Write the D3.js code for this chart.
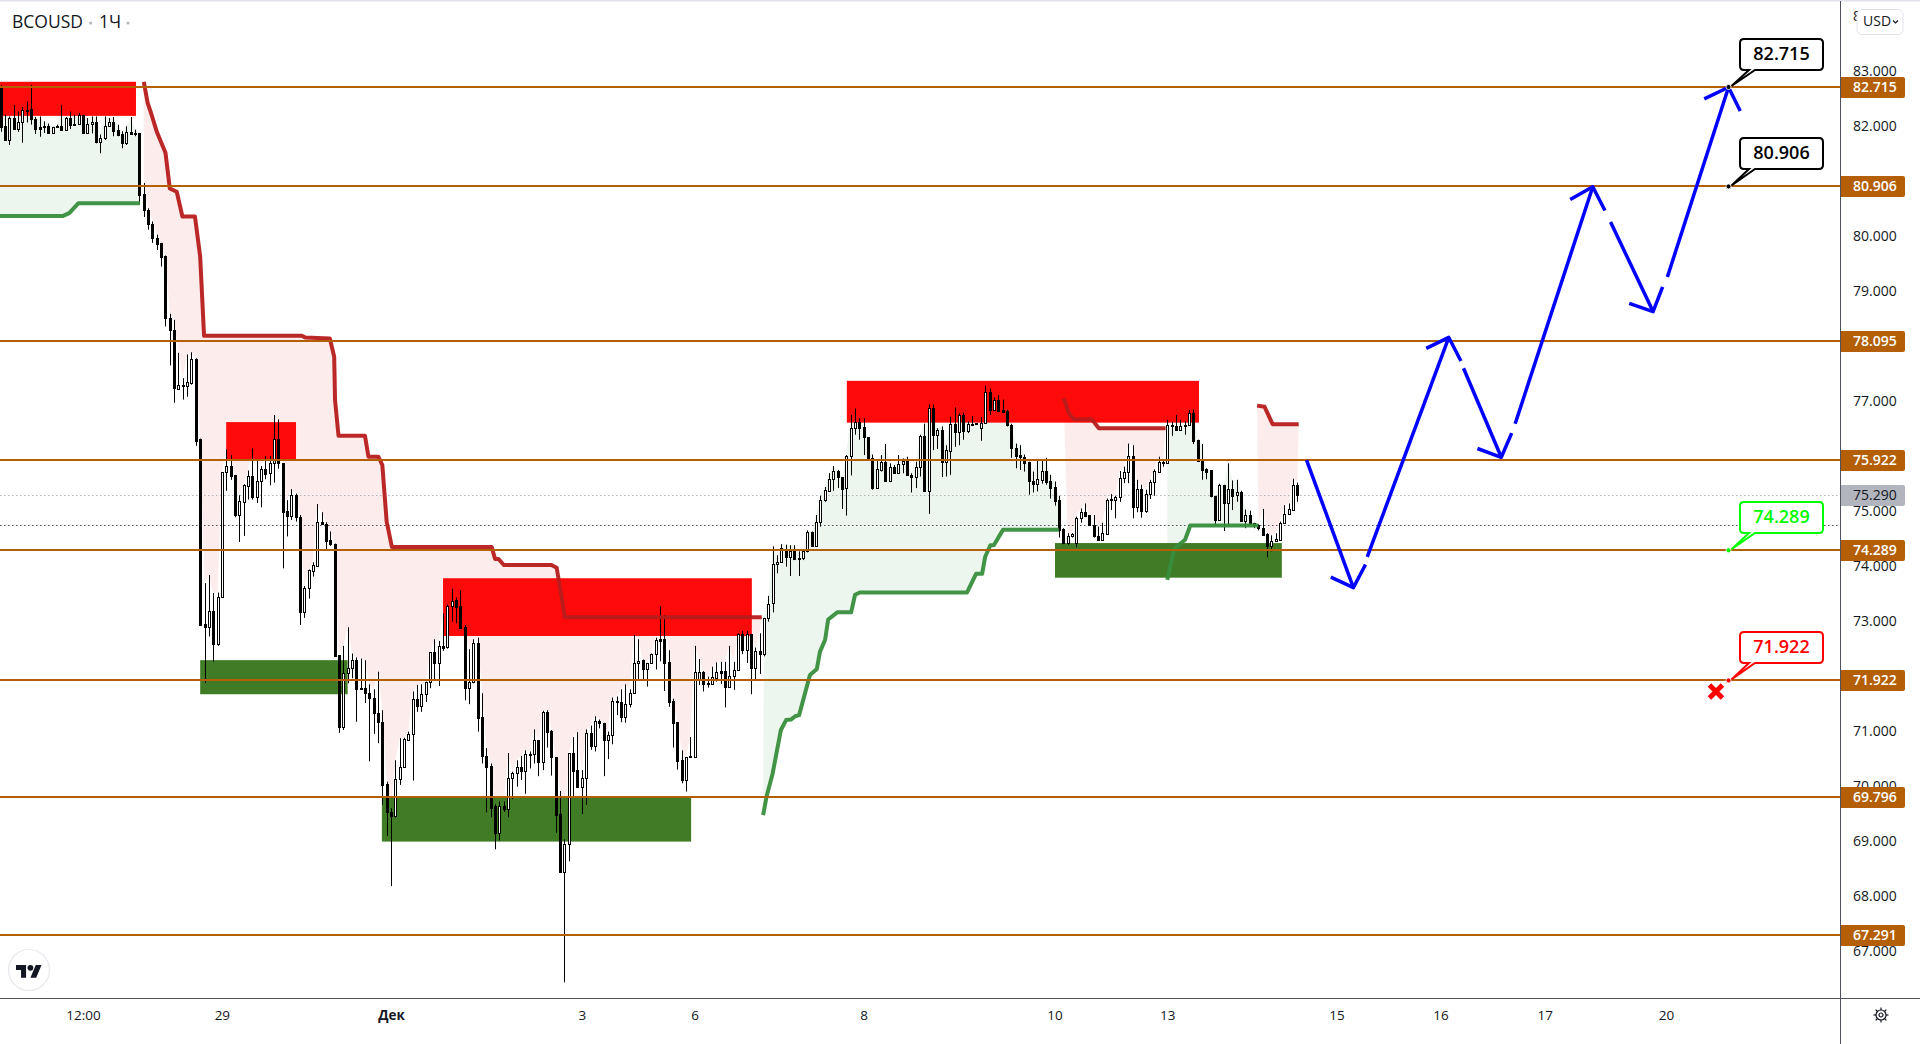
<!DOCTYPE html>
<html lang="ru">
<head>
<meta charset="utf-8">
<title>BCOUSD 1Ч</title>
<script src="https://cdn.jsdelivr.net/npm/d3@7"></script>
<style>
html,body{margin:0;padding:0;background:#fff;overflow:hidden}
svg{display:block}
text{font-family:"Open Sans",sans-serif;fill:#131722}
</style>
</head>
<body>
<svg id="chart" width="1920" height="1044"></svg>
<script>
// ---- Candles (BCOUSD, 1 hour bars) ----
const opens = [
82.69,82.01,81.76,82.15,81.96,82.07,82.30,82.31,82.13,81.98,
82.00,82.00,81.88,81.98,82.01,81.94,82.16,82.05,82.04,82.20,
81.88,82.04,82.07,81.72,81.78,82.00,82.07,81.94,81.86,81.69,
81.89,81.88,81.88,80.77,80.48,80.23,79.97,79.88,79.65,78.51,
78.30,77.23,77.30,77.27,77.33,77.77,76.31,72.95,72.90,73.18,
72.58,73.44,75.71,75.82,75.66,74.93,75.17,75.46,75.64,75.25,
75.54,75.76,75.69,75.87,76.32,75.87,75.00,74.92,75.30,74.90,
73.17,73.60,73.92,74.01,74.80,74.76,74.47,74.41,72.38,71.08,
72.05,72.14,72.29,71.78,71.78,71.70,71.60,71.32,71.17,70.04,
69.52,69.46,70.12,70.34,70.84,70.94,71.58,71.46,71.67,71.89,
72.43,72.23,72.55,72.53,73.28,73.39,73.27,72.89,71.78,71.89,
72.60,71.25,70.55,70.36,69.63,69.14,69.63,69.58,70.14,70.23,
70.35,70.28,70.58,70.58,70.83,70.44,71.35,71.00,70.53,69.49,
68.43,68.94,70.60,70.29,69.99,70.15,70.96,70.72,71.19,71.15,
70.83,70.92,71.54,71.52,71.26,71.49,71.70,72.23,72.29,72.13,
72.23,72.40,72.67,72.67,72.25,71.54,71.16,70.47,70.11,70.54,
70.53,71.93,72.07,71.87,71.86,71.96,72.09,72.09,71.81,72.01,
72.12,72.76,72.47,72.76,72.15,72.45,72.41,73.06,73.33,74.03,
74.08,74.28,74.17,74.28,74.15,74.14,74.28,74.62,74.37,74.81,
75.20,75.37,75.59,75.73,75.62,75.42,76.01,76.51,76.63,76.53,
76.34,75.96,75.43,75.75,75.90,75.54,75.81,75.70,75.85,75.91,
75.66,75.62,75.80,76.37,75.36,76.87,76.39,76.48,75.90,76.10,
76.59,76.44,76.75,76.46,76.59,76.60,76.51,76.60,77.16,76.84,
77.02,76.84,76.82,76.57,76.14,76.02,75.99,75.90,75.55,75.50,
75.57,75.73,75.55,75.44,75.20,74.67,74.42,74.54,74.42,74.87,
74.98,74.93,74.74,74.55,74.47,74.59,75.22,75.21,75.25,75.60,
75.71,76.01,75.08,75.40,75.01,75.31,75.53,75.72,75.89,75.87,
76.57,76.55,76.48,76.54,76.56,76.78,76.30,75.91,75.77,75.74,
75.28,74.84,75.47,75.14,75.40,75.29,75.34,74.82,74.93,74.78,
74.74,74.70,74.58,74.37,74.45,74.48,74.79,74.94,75.03,75.48];
const highs = [
82.75,82.21,82.18,82.39,82.27,82.35,82.45,82.75,82.17,82.18,
82.09,82.05,81.99,82.03,82.39,82.17,82.27,82.21,82.24,82.21,
82.15,82.18,82.18,81.85,82.18,82.15,82.17,82.03,81.91,82.00,
82.17,81.94,81.88,80.97,80.51,80.27,80.03,79.88,79.65,78.59,
78.48,77.88,77.42,77.85,77.89,77.78,76.32,73.69,73.84,73.51,
73.52,75.71,76.12,76.02,75.66,75.29,75.49,75.74,76.14,75.93,
75.82,76.00,76.00,76.75,76.67,75.87,75.20,75.40,75.32,74.93,
73.64,73.94,74.07,75.13,74.98,74.80,74.63,74.41,72.38,72.55,
72.89,72.41,72.34,72.32,72.29,71.85,71.76,72.08,71.38,70.08,
69.60,70.47,70.87,70.88,70.99,71.72,71.84,71.85,71.90,72.44,
72.67,72.64,73.14,73.30,73.59,73.43,73.56,72.93,72.49,72.67,
72.70,71.69,70.69,70.41,69.67,69.72,69.72,70.60,70.26,70.47,
70.55,70.65,70.63,71.03,70.83,71.37,71.38,71.02,70.53,69.91,
69.03,70.60,70.89,70.98,70.29,71.03,71.10,71.27,71.21,71.15,
70.99,71.61,71.63,71.76,71.85,71.76,72.75,72.67,72.30,72.24,
72.41,72.70,73.27,73.11,72.47,71.59,71.16,70.65,70.53,70.89,
72.55,72.31,72.09,71.99,72.17,72.25,72.26,72.26,72.55,72.26,
72.78,72.82,72.82,72.76,72.52,72.78,73.06,73.46,74.36,74.20,
74.40,74.39,74.38,74.38,74.27,74.29,74.65,74.63,74.93,75.28,
75.44,75.69,75.82,75.75,75.62,76.02,76.75,76.87,76.69,76.69,
76.34,76.03,75.93,76.02,76.22,75.87,75.84,76.02,75.96,75.99,
75.69,75.90,76.39,76.59,76.94,76.94,76.51,76.54,76.20,76.72,
76.89,76.78,76.79,76.63,76.73,76.60,76.71,77.28,77.23,77.07,
77.11,77.03,76.84,76.59,76.23,76.20,76.03,75.90,75.72,75.93,
75.93,75.97,75.66,75.54,75.28,74.69,74.60,74.60,74.90,75.05,
75.14,74.93,74.93,74.72,74.79,75.23,75.31,75.28,75.73,75.81,
76.23,76.20,75.57,75.48,75.39,75.57,75.76,75.99,75.93,76.66,
76.63,76.75,76.66,76.64,76.84,76.85,76.30,76.22,75.78,75.74,
75.28,75.50,75.48,75.87,75.56,75.57,75.37,75.03,75.01,74.79,
74.76,75.04,74.60,74.56,74.60,74.81,75.11,75.14,75.59,75.52];
const lows = [
81.90,81.75,81.66,81.96,81.90,81.70,82.07,82.03,81.86,81.81,
81.88,81.88,81.88,81.98,81.94,81.94,81.95,82.03,82.03,81.86,
81.87,81.87,81.69,81.51,81.75,81.99,81.82,81.82,81.60,81.66,
81.85,81.82,80.59,80.35,80.12,79.88,79.75,79.45,78.36,77.65,
76.97,77.21,77.03,77.08,77.30,76.19,72.93,71.87,72.72,72.26,
72.55,73.44,75.37,75.57,74.89,74.44,74.55,75.21,75.21,75.15,
75.07,75.58,75.47,75.52,75.77,73.96,74.54,74.84,74.81,72.93,
73.06,73.41,73.81,74.01,74.75,74.31,74.37,72.35,70.97,71.02,
71.87,71.96,71.17,71.76,71.51,70.45,70.95,70.78,69.66,69.09,
68.18,69.43,70.02,70.34,70.83,70.10,71.35,71.35,71.53,71.78,
71.93,71.82,72.46,72.50,72.99,72.96,72.87,71.56,71.49,71.87,
70.99,70.41,69.52,69.43,68.85,69.01,69.53,69.43,69.76,69.99,
70.11,69.86,70.32,70.41,70.18,70.29,70.70,70.19,69.15,68.43,
66.43,68.63,69.81,69.99,69.49,69.66,70.66,70.63,71.05,70.18,
70.49,70.76,71.29,71.16,71.15,71.43,71.69,71.93,71.94,71.81,
72.22,72.12,72.27,71.73,71.44,70.70,70.30,70.05,69.90,70.52,
70.53,71.84,71.72,71.79,71.86,71.90,71.86,71.43,71.79,71.75,
72.11,72.40,72.24,71.67,71.94,72.04,72.36,72.99,73.16,73.87,
74.08,73.99,73.82,74.11,73.82,74.11,74.25,74.37,74.37,74.72,
75.17,75.36,75.37,75.42,75.04,74.92,75.65,76.39,76.30,76.02,
75.96,75.39,75.42,75.72,75.54,75.53,75.68,75.69,75.69,75.65,
75.34,75.42,75.63,75.36,74.95,76.11,76.13,75.62,75.63,75.66,
76.17,76.20,76.30,76.42,76.57,76.59,76.28,76.60,76.75,76.84,
76.83,76.81,76.54,75.97,75.78,75.75,75.72,75.30,75.34,75.36,
75.50,75.48,75.23,75.10,74.52,74.40,74.39,74.52,74.34,74.79,
74.89,74.74,74.52,74.47,74.47,74.57,75.02,74.87,75.17,75.51,
75.51,74.87,74.98,74.88,74.97,75.22,75.28,75.71,75.81,75.87,
76.37,76.47,76.47,76.39,76.56,76.22,75.90,75.57,75.58,75.25,
74.74,74.83,74.64,74.75,75.02,75.17,74.81,74.69,74.75,74.69,
74.65,74.56,74.16,74.27,74.45,74.46,74.78,74.93,75.02,75.17];
const closes = [
81.99,81.75,82.15,81.96,82.07,82.29,82.28,82.13,81.96,81.96,
81.98,81.88,81.98,82.01,81.94,82.16,82.03,82.03,82.20,81.88,
82.04,82.07,81.72,81.79,82.00,82.07,81.92,81.85,81.69,81.89,
81.86,81.86,80.75,80.47,80.23,79.97,79.86,79.63,78.51,78.29,
77.24,77.29,77.28,77.35,77.77,76.28,72.93,72.90,73.18,72.58,
73.44,75.71,75.82,75.64,74.93,75.18,75.47,75.64,75.25,75.55,
75.76,75.67,75.87,76.32,75.87,74.99,74.92,75.30,74.89,73.17,
73.60,73.93,74.02,74.80,74.76,74.46,74.40,72.37,71.08,72.05,
72.14,72.29,71.76,71.76,71.70,71.60,71.32,71.17,70.02,69.52,
69.46,70.12,70.34,70.85,70.94,71.58,71.46,71.67,71.89,72.43,
72.23,72.54,72.52,73.28,73.37,73.26,72.87,71.78,71.89,72.60,
71.24,70.55,70.35,69.61,69.14,69.63,69.58,70.14,70.23,70.35,
70.28,70.58,70.57,70.83,70.44,71.35,70.99,70.52,69.47,68.43,
68.94,70.60,70.28,69.99,70.15,70.96,70.72,71.19,71.15,70.83,
70.92,71.54,71.52,71.26,71.49,71.70,72.23,72.28,72.13,72.23,
72.40,72.65,72.64,72.24,71.53,71.15,70.46,70.11,70.52,70.52,
72.07,72.07,71.86,71.86,71.98,72.07,72.06,71.81,72.01,72.12,
72.76,72.47,72.76,72.15,72.45,72.41,73.06,73.32,74.04,74.08,
74.33,74.17,74.28,74.13,74.13,74.28,74.62,74.37,74.81,75.20,
75.39,75.59,75.73,75.62,75.41,76.01,76.51,76.63,76.52,76.34,
75.96,75.42,75.76,75.90,75.54,75.81,75.69,75.85,75.91,75.65,
75.62,75.80,76.37,75.36,76.87,76.39,76.48,75.90,76.11,76.59,
76.44,76.75,76.46,76.59,76.57,76.59,76.60,77.16,76.84,77.02,
76.83,76.81,76.56,76.14,76.00,75.99,75.88,75.54,75.50,75.58,
75.73,75.53,75.43,75.19,74.66,74.42,74.54,74.58,74.87,74.98,
74.91,74.74,74.54,74.47,74.60,75.20,75.20,75.25,75.60,75.71,
76.01,75.08,75.40,75.01,75.31,75.53,75.73,75.89,75.87,76.57,
76.54,76.48,76.55,76.57,76.78,76.28,75.91,75.75,75.72,75.27,
74.84,75.47,75.14,75.40,75.28,75.34,74.82,74.93,74.77,74.74,
74.69,74.57,74.37,74.45,74.49,74.79,74.94,75.04,75.48,75.30];

// ---- Axes ----
const priceTicks = [67,68,69,70,71,72,73,74,75,76,77,78,79,80,81,82,83,84];
const timeTickBars = [19,51,90,134,160,199,243,269,308,332,356,384];
const timeTickLabels = ["12:00","29","Дек","3","6","8","10","13","15","16","17","20"];
const boldTimeLabels = ["Дек"];

// ---- Horizontal levels ----
const levels = [82.715,80.906,78.095,75.922,74.289,71.922,69.796,67.291];
const lastPrice = 75.290;
const dottedDark = 74.74;

// ---- Supply / demand zones: [first bar, last bar, top price, bottom price] ----
const redZones = [[-0.15,31.2,82.81,82.19],[52,68.1,76.62,75.93],[102,173.2,73.78,72.73],[195.1,276.3,77.37,76.61]];
const greenZones = [[46,80,72.29,71.67],[87.9,159.2,69.79,68.99],[243.1,295.4,74.42,73.79]];

// ---- Trend line segments: bar position and price at each vertex ----
const redTrend1Bars = [33,33.9,34.8,36,38,39,40.6,41.9,44.8,46,46.9,69.4,70.2,75.9,76.9,77.1,77.9,84,84.8,87.1,88,89,90.2,113.2,114,114.8,116,127,128.2,130.1,175.5];
const redTrend1Prices = [82.81,82.42,82.21,81.90,81.52,80.87,80.81,80.36,80.36,79.63,78.19,78.19,78.16,78.14,77.81,77.02,76.37,76.37,75.99,75.99,75.84,74.81,74.35,74.35,74.13,74.13,74.02,74.02,73.97,73.07,73.07];
const redTrend2Bars = [245.1,246.3,247.4,251.6,253.2,268.6];
const redTrend2Prices = [77.05,76.78,76.67,76.67,76.51,76.51];
const redTrend3Bars = [289.7,291.4,293.3,299.3];
const redTrend3Prices = [76.92,76.90,76.58,76.58];
const greenTrend1Bars = [-1,14.4,15.8,17.9,32.1];
const greenTrend1Prices = [80.37,80.37,80.42,80.60,80.60];
const greenTrend2Bars = [175.8,176.6,178,179.9,181.1,182.2,183.2,184.1,186.6,188.2,188.9,190.1,190.8,192.9,196.1,197,198.1,222.8,224.9,226.3,227,228.2,229,231.1,244];
const greenTrend2Prices = [69.47,69.81,70.23,71.02,71.20,71.21,71.27,71.29,72.02,72.13,72.44,72.66,73.03,73.16,73.16,73.48,73.52,73.52,73.86,73.86,74.17,74.38,74.38,74.66,74.66];
const greenTrend3Bars = [269,270.6,273.1,274.3,290];
const greenTrend3Prices = [73.75,74.32,74.48,74.74,74.74];

// ---- Forecast arrows: start, tip, wing, wing ----
const arrowStartBars = [301.1,315.1,337.3,349.2,371.2,384.3];
const arrowStartPrices = [75.93,74.17,77.60,76.59,80.26,79.26];
const arrowTipBars = [311.9,333.9,346,367.1,381,398.4];
const arrowTipPrices = [73.61,78.16,75.98,80.90,78.63,82.71];
const arrowWingABars = [306.7,328.7,340.5,361.9,375.5,392.8];
const arrowWingAPrices = [73.80,77.96,76.14,80.67,78.78,82.50];
const arrowWingBBars = [314.7,336.7,348.4,369.9,383.2,401.1];
const arrowWingBPrices = [74.03,77.73,76.42,80.47,79.08,82.28];

// ---- Callouts ----
const calloutPrices = [82.715,80.906,74.289,71.922];
const calloutLabels = ["82.715","80.906","74.289","71.922"];
const calloutColors = ["#000000","#000000","#00ff00","#ff0000"];
const calloutBar = 398.4;
const crossBar = 395.5;
const crossPrice = 71.72;

// ---- Scales ----
const x = d3.scaleLinear().domain([0,400]).range([0.67,1735.47]);
const y = d3.scaleLinear().domain([82.715,67.291]).range([87,935]);

const W = 1920, H = 1044, paneR = 1840, paneB = 998;
const svg = d3.select("#chart");
svg.append("rect").attr("width",W).attr("height",H).attr("fill","#fff");
svg.append("rect").attr("width",W).attr("height",1.5).attr("fill","#e0e3eb");
svg.append("clipPath").attr("id","pane").append("rect").attr("x",0).attr("y",1).attr("width",paneR).attr("height",paneB-1);
const pane = svg.append("g").attr("clip-path","url(#pane)");

const bars = d3.range(opens.length);
const pairs = (a,b)=>a.map((v,i)=>[x(v),y(b[i])]);
const line = d3.line();

// Fills between trend line and candle highs
function trendFill(tb,tp,color){
  const first = Math.max(0,Math.ceil(tb[0])), last = Math.min(bars.length-1,Math.floor(tb[tb.length-1]));
  const lower = d3.range(last,first-1,-1).map(i=>[x(i),y(highs[i])]);
  const pts = pairs(tb,tp).concat(lower);
  pane.append("path").attr("d",line(pts)+"Z").attr("fill",color);
}
[[redTrend1Bars,redTrend1Prices],[redTrend2Bars,redTrend2Prices],[redTrend3Bars,redTrend3Prices]]
  .forEach(s=>trendFill(s[0],s[1],"#fdecec"));
[[greenTrend1Bars,greenTrend1Prices],[greenTrend2Bars,greenTrend2Prices],[greenTrend3Bars,greenTrend3Prices]]
  .forEach(s=>trendFill(s[0],s[1],"#ecf5ee"));

// Zones
function zones(data,color){
  pane.append("g").selectAll("rect").data(data).join("rect")
    .attr("x",d=>x(d[0])).attr("width",d=>x(d[1])-x(d[0]))
    .attr("y",d=>y(d[2])).attr("height",d=>y(d[3])-y(d[2]))
    .attr("fill",color).attr("fill-opacity",0.96);
}
zones(greenZones,"#38761d");
zones(redZones,"#ff0000");

// Dotted price lines
pane.append("line").attr("x1",0).attr("x2",paneR).attr("y1",Math.round(y(lastPrice))+.5).attr("y2",Math.round(y(lastPrice))+.5)
  .attr("stroke","#b2b5be").attr("stroke-dasharray","1.5 2.5");
pane.append("line").attr("x1",0).attr("x2",paneR).attr("y1",Math.round(y(dottedDark))+.5).attr("y2",Math.round(y(dottedDark))+.5)
  .attr("stroke","#50535e").attr("stroke-dasharray","1.5 2.5");

// Candles
const cx = i=>Math.round(x(i));
const cg = pane.append("g");
cg.selectAll("line").data(bars).join("line")
  .attr("x1",i=>cx(i)+.5).attr("x2",i=>cx(i)+.5)
  .attr("y1",i=>y(highs[i])).attr("y2",i=>y(lows[i]))
  .attr("stroke","#000").attr("stroke-width",1);
cg.selectAll("rect").data(bars).join("rect")
  .attr("x",i=>cx(i)-.5).attr("width",2)
  .attr("y",i=>Math.round(y(Math.max(opens[i],closes[i])))+.5)
  .attr("height",i=>Math.max(1,Math.round(y(Math.min(opens[i],closes[i])))-Math.round(y(Math.max(opens[i],closes[i])))))
  .attr("fill",i=>closes[i]>opens[i]?"#fff":"#000")
  .attr("stroke","#000").attr("stroke-width",1);

// Trend lines
function trendLine(tb,tp,color){
  pane.append("path").attr("d",line(pairs(tb,tp))).attr("fill","none")
    .attr("stroke",color).attr("stroke-width",4).attr("stroke-opacity",.95).attr("stroke-linejoin","round");
}
trendLine(greenTrend1Bars,greenTrend1Prices,"#388e3c");
trendLine(greenTrend2Bars,greenTrend2Prices,"#388e3c");
trendLine(greenTrend3Bars,greenTrend3Prices,"#388e3c");
trendLine(redTrend1Bars,redTrend1Prices,"#b71c1c");
trendLine(redTrend2Bars,redTrend2Prices,"#b71c1c");
trendLine(redTrend3Bars,redTrend3Prices,"#b71c1c");

// Levels
pane.append("g").selectAll("line").data(levels).join("line")
  .attr("x1",0).attr("x2",paneR)
  .attr("y1",d=>Math.round(y(d))).attr("y2",d=>Math.round(y(d)))
  .attr("stroke","#b45f06").attr("stroke-width",2);

// Forecast arrows
const ag = pane.append("g").attr("fill","none").attr("stroke","#0000ff").attr("stroke-width",3.5).attr("stroke-linejoin","round");
arrowTipBars.forEach((b,i)=>{
  ag.append("path").attr("d",line([[x(arrowStartBars[i]),y(arrowStartPrices[i])],[x(b),y(arrowTipPrices[i])]]));
  ag.append("path").attr("d",line([[x(arrowWingABars[i]),y(arrowWingAPrices[i])],[x(b),y(arrowTipPrices[i])],[x(arrowWingBBars[i]),y(arrowWingBPrices[i])]]));
});

// Red cross
const cgx = x(crossBar), cgy = y(crossPrice);
pane.append("path").attr("d",`M${cgx-6.5},${cgy-6.5}L${cgx+6.5},${cgy+6.5}M${cgx-6.5},${cgy+6.5}L${cgx+6.5},${cgy-6.5}`)
  .attr("stroke","#ff0000").attr("stroke-width",5).attr("fill","none");

// Callouts
const boxX = 1740, boxW = 83, boxH = 31, boxRise = 17;
calloutPrices.forEach((p,i)=>{
  const ax = x(calloutBar), ay = y(p), c = calloutColors[i];
  const top = Math.round(ay)-boxRise-boxH, bot = top+boxH, l = boxX, r = boxX+boxW, rad = 4;
  const g = pane.append("g");
  g.append("path").attr("d",
    `M${l+rad},${top}H${r-rad}Q${r},${top} ${r},${top+rad}V${bot-rad}Q${r},${bot} ${r-rad},${bot}H${l+15}L${ax+3},${ay-1}L${l+9},${bot}H${l+rad}Q${l},${bot} ${l},${bot-rad}V${top+rad}Q${l},${top} ${l+rad},${top}Z`)
    .attr("fill","#fff").attr("stroke",c).attr("stroke-width",2);
  g.append("circle").attr("cx",ax).attr("cy",ay).attr("r",2.5).attr("fill",c).attr("stroke","#fff").attr("stroke-width",.8);
  g.append("text").attr("x",boxX+boxW/2).attr("y",(top+bot)/2+.5).attr("text-anchor","middle").attr("dominant-baseline","middle")
    .style("font-family","'Open Sans',sans-serif").style("font-weight",600).style("font-size","18px").style("fill",c).text(calloutLabels[i]);
});

// Price axis
const yAxis = d3.axisRight(y).tickValues(priceTicks).tickSize(0).tickPadding(13).tickFormat(d3.format(".3f"));
const yg = svg.append("g").attr("transform",`translate(${paneR},0)`).call(yAxis);
yg.select(".domain").remove();
yg.selectAll("text").style("font-family","'Open Sans',sans-serif").style("font-size","14px").style("fill","#131722");

svg.append("line").attr("x1",paneR+.5).attr("x2",paneR+.5).attr("y1",1).attr("y2",H).attr("stroke","#50535e");

// Level and last price tags
function tag(p,bg,fg,weight){
  const yy = Math.round(y(p));
  svg.append("path").attr("d",`M${paneR+1},${yy-10}H${paneR+63}q2,0 2,2V${yy+9}q0,2 -2,2H${paneR+1}Z`).attr("fill",bg);
  svg.append("text").attr("x",paneR+13).attr("y",yy+1.5).attr("dominant-baseline","middle")
    .style("font-size","14px").style("font-weight",weight).style("fill",fg).text(d3.format(".3f")(p));
}
tag(lastPrice,"#b2b5be","#131722",400);
levels.forEach(p=>tag(p,"#b45f06","#ffffff",600));

// Time axis
const xAxis = d3.axisBottom(x).tickValues(timeTickBars).tickSize(0).tickPadding(12)
  .tickFormat(i=>timeTickLabels[timeTickBars.indexOf(i)]);
const xg = svg.append("g").attr("transform",`translate(0,${paneB})`).call(xAxis);
xg.select(".domain").remove();
xg.selectAll("text").style("font-family","'Open Sans',sans-serif").style("font-size","13.5px").style("fill","#131722")
  .style("font-weight",function(){return boldTimeLabels.includes(this.textContent)?700:400;});
svg.append("line").attr("x1",0).attr("x2",W).attr("y1",paneB+.5).attr("y2",paneB+.5).attr("stroke","#50535e");

// Title
svg.append("text").attr("x",12).attr("y",23).attr("dominant-baseline","middle").style("font-size","17.5px").text("BCOUSD");
svg.append("text").attr("x",99).attr("y",23).attr("dominant-baseline","middle").style("font-size","17.5px").text("1Ч");
svg.selectAll(".dot").data([90.7,128]).join("circle").attr("cx",d=>d).attr("cy",23).attr("r",1.5).attr("fill","#b2b5be");

// Currency button
svg.append("rect").attr("x",1857).attr("y",9.5).attr("width",46).attr("height",25).attr("rx",5).attr("fill","#fff").attr("stroke","#e0e3eb");
svg.append("text").attr("x",1863).attr("y",22.5).attr("dominant-baseline","middle").style("font-size","14px").text("USD");
svg.append("path").attr("d","M1893,20.5l2.5,2.5l2.5,-2.5").attr("fill","none").attr("stroke","#131722").attr("stroke-width",1.2);

// TradingView logo
svg.append("circle").attr("cx",29).attr("cy",970).attr("r",20.5).attr("fill","#fff").attr("stroke","#e8e9ee").attr("stroke-width",1.2);
const logo = svg.append("g").attr("transform","translate(16,962) scale(.72)").attr("fill","#131722");
logo.append("path").attr("d","M14 22H7V11H0V4h14v18zM28 22h-8l7.5-18h8L28 22z");
logo.append("circle").attr("cx",20).attr("cy",8).attr("r",4);

// Settings gear
const gear = svg.append("g").attr("transform","translate(1881,1015)").attr("fill","none").attr("stroke","#131722").attr("stroke-width",1.2);
gear.append("circle").attr("r",5);
gear.append("circle").attr("r",2);
gear.selectAll("line").data(d3.range(8)).join("line")
  .attr("x1",0).attr("x2",0).attr("y1",-5).attr("y2",-7.5).attr("transform",d=>`rotate(${d*45})`);
</script>
</body>
</html>
